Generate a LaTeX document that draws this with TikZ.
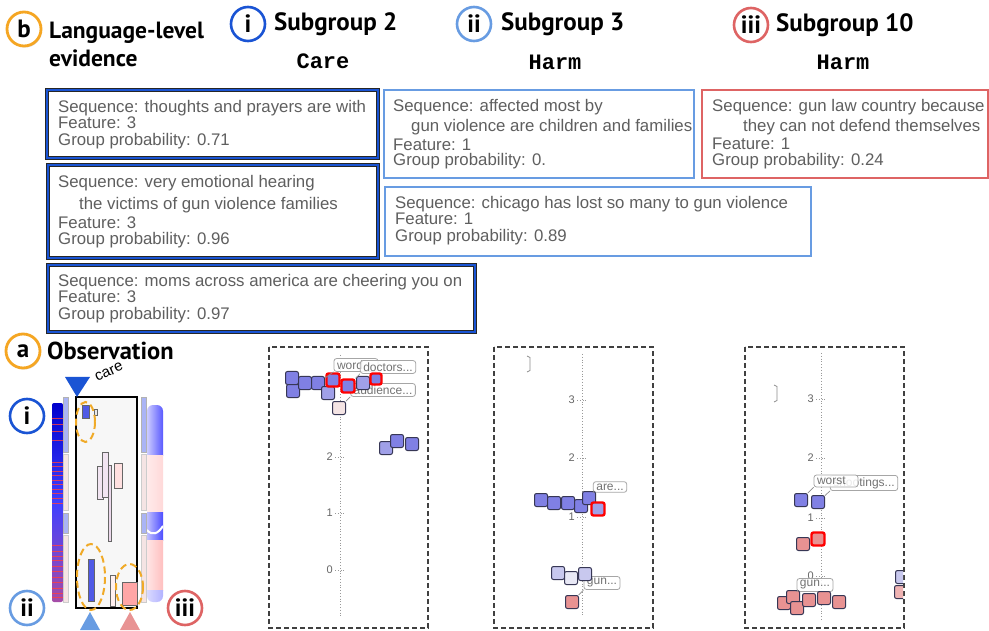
\documentclass[tikz,border=0pt]{standalone}
\usepackage{fontspec}
\setmainfont{Liberation Sans}
\newfontfamily\headfont{PT Sans}
\newfontfamily\codefont{Liberation Mono}
\usetikzlibrary{shadows}

\definecolor{subone}{RGB}{26,84,212}
\definecolor{subtwo}{RGB}{104,156,226}
\definecolor{subthree}{RGB}{222,100,100}
\definecolor{badge}{RGB}{245,166,35}
\definecolor{seqgray}{RGB}{95,95,95}
\definecolor{dotblue}{RGB}{128,128,228}
\definecolor{dotlight}{RGB}{160,160,232}
\definecolor{dotpale}{RGB}{200,200,238}
\definecolor{dotwhite}{RGB}{232,232,245}
\definecolor{dotsalmon}{RGB}{232,146,146}
\definecolor{dotpink}{RGB}{244,228,228}
\definecolor{dotedge}{RGB}{55,55,85}
\definecolor{ringorange}{RGB}{240,170,40}
\definecolor{barblue}{RGB}{170,180,245}
\definecolor{barpink}{RGB}{245,228,228}
\definecolor{boxblue}{RGB}{80,90,230}

\tikzset{
  badgecircle/.style={circle, draw=badge, line width=2.8pt, fill=white, minimum size=34pt, inner sep=0pt,
    drop shadow={opacity=0.3, shadow xshift=1pt, shadow yshift=-1.5pt}, font=\headfont\bfseries\fontsize{25}{25}\selectfont},
  groupcircle/.style={circle, draw=#1, line width=2.6pt, fill=white, minimum size=34pt, inner sep=0pt,
    font=\headfont\bfseries\fontsize{25}{25}\selectfont},
  title/.style={anchor=west, inner sep=0pt, align=left, font=\headfont\bfseries\fontsize{#1}{28}\selectfont},
  moral/.style={inner sep=0pt, font=\codefont\bfseries\fontsize{22}{22}\selectfont},
  seqbox/.style={draw=#1, line width=2.4pt},
  seqtext/.style={anchor=west, inner sep=0pt, align=left, text=seqgray, font=\fontsize{16.8}{16.5}\selectfont},
  panel/.style={draw=black!75, line width=1.1pt, dash pattern=on 5pt off 3pt},
  axisline/.style={draw=black!40, line width=0.8pt, dotted},
  ticklabel/.style={anchor=east, inner sep=0pt, text=black!60, font=\fontsize{11}{11}\selectfont},
  dot/.style={rectangle, draw=dotedge, line width=1pt, rounded corners=2pt, minimum size=13pt, inner sep=0pt, fill=#1},
  hit/.style={dot=#1, draw=red, line width=2.4pt},
  tip/.style={rectangle, draw=black!35, line width=0.8pt, rounded corners=2.5pt, fill=white, fill opacity=0.85,
    text opacity=1, text=black!55, inner xsep=3pt, inner ysep=2pt, font=\fontsize{12}{12}\selectfont},
  leader/.style={draw=black!45, line width=0.7pt},
  ring/.style={draw=ringorange, line width=2pt, dash pattern=on 7pt off 4pt},
  block/.style={draw=black!60, line width=0.8pt},
}

\begin{document}
\begin{tikzpicture}[x=1pt, y=-1pt]
\fill[white] (0,0) rectangle (989,631);
\useasboundingbox (0,0) rectangle (989,631);

% headers
\node[badgecircle] (badgeb) at (24,29) {b};
\node[title=23.5] (langtitle) at (49,44) {Language-level\\evidence};

\node[groupcircle=subone] (gi) at (248,24) {i};
\node[title=25] (sgtwo) at (274,24) {Subgroup 2};
\node[moral] (care) at (323,61) {Care};

\node[groupcircle=subtwo] (gii) at (474,24) {ii};
\node[title=25] (sgthree) at (501,24) {Subgroup 3};
\node[moral] (harmii) at (555,62) {Harm};

\node[groupcircle=subthree] (giii) at (751,25) {iii};
\node[title=25] (sgten) at (776,25) {Subgroup 10};
\node[moral] (harmiii) at (843,62) {Harm};

% sequence boxes
\draw[seqbox=subone, preaction={draw=black!85, line width=3.2pt}] (47,90) rectangle (378,158);
\node[seqtext] (seqone) at (58,124.5) {Sequence: thoughts and prayers are with\\Feature: 3\\Group probability: 0.71};

\draw[seqbox=subone, preaction={draw=black!85, line width=3.2pt}] (48,165) rectangle (378,258);
\node[seqtext] (seqtwo) at (58,212) {Sequence: very emotional hearing\\[5pt]\hspace*{21pt}the victims of gun violence families\\[2.5pt]Feature: 3\\Group probability: 0.96};

\draw[seqbox=subone, preaction={draw=black!85, line width=3.2pt}] (48,265) rectangle (475,332);
\node[seqtext] (seqthree) at (58,298.5) {Sequence: moms across america are cheering you on\\Feature: 3\\Group probability: 0.97};

\draw[seqbox=subtwo] (384,90) rectangle (694,178);
\node[seqtext] (seqfour) at (393,134) {Sequence: affected most by\\[3.5pt]\hspace*{18pt}gun violence are children and families\\[2.5pt]Feature: 1\\[-1.5pt]Group probability: 0.};

\draw[seqbox=subtwo] (385,187) rectangle (811,256);
\node[seqtext] (seqfive) at (395,220.5) {Sequence: chicago has lost so many to gun violence\\Feature: 1\\Group probability: 0.89};

\draw[seqbox=subthree] (702,90) rectangle (988,178);
\node[seqtext] (seqsix) at (712,134) {Sequence: gun law country because\\[3.5pt]\hspace*{31pt}they can not defend themselves\\[1pt]Feature: 1\\[-0.5pt]Group probability: 0.24};

% a: observation
\node[badgecircle] (badgea) at (23,351) {a};
\node[title=24.5] (obstitle) at (47,351) {Observation};

% heatmap strip
\shade[top color=blue!80!black, bottom color=violet!70, middle color=blue!75, rounded corners=2pt] (52,403) rectangle (63,602);
\foreach \y in {418,424,431,440,462,466,471,475,480,484,489,493,498,503,545,551,556,560,566,571,577,582,588,593,597}
  \draw[red!75, line width=0.7pt, opacity=0.8] (52,\y) -- (63,\y);

% right blob
\begin{scope}
\clip[rounded corners=6pt] (147,405) rectangle (163,602);
\shade[left color=blue!20, right color=blue!65] (147,405) rectangle (163,455);
\shade[left color=red!8, right color=red!15] (147,455) rectangle (163,512);
\shade[left color=blue!25, right color=blue!70] (147,512) rectangle (163,540);
\draw[white, line width=2pt] (147,530) .. controls (152,536) and (158,534) .. (163,526);
\shade[left color=red!10, right color=red!25] (147,540) rectangle (163,590);
\shade[left color=blue!15, right color=blue!30] (147,590) rectangle (163,602);
\end{scope}

% side bars
\foreach \x in {63,141} {
  \draw[draw=black!30, fill=barblue] (\x,397) rectangle (\x+5.5,452);
  \draw[draw=black!20, fill=barpink] (\x,454) rectangle (\x+5.5,510);
  \draw[draw=black!30, fill=barblue] (\x,513) rectangle (\x+5.5,533);
  \draw[draw=black!20, fill=barpink] (\x,535) rectangle (\x+5.5,602);
}

% main column
\draw[line width=1.8pt, fill=black!3] (76,397) rectangle (137,608);
\draw[block, fill=boxblue] (82,405) rectangle (89,418);
\draw[block, fill=black!8] (94,409) rectangle (97,415);
\draw[block, fill=violet!10] (97,466) rectangle (103,499);
\draw[block, fill=violet!10] (102,452) rectangle (108,497);
\draw[block, fill=violet!15] (108,465) rectangle (111,541);
\draw[block, fill=red!12] (114,463) rectangle (122,488);
\draw[block, fill=boxblue] (88,559) rectangle (94,601);
\draw[block, fill=red!6] (110,575) rectangle (115,606);
\draw[block, fill=red!35] (122,582) rectangle (137,605);

\draw[ring] (85.5,422) ellipse [x radius=9.5, y radius=20];
\draw[ring] (91,577) ellipse [x radius=14, y radius=33];
\draw[ring] (129.5,587) ellipse [x radius=13.5, y radius=23];

\fill[subone] (65,377) -- (90,377) -- (77,397) -- cycle;
\node[rotate=25, inner sep=0pt, font=\fontsize{15}{15}\selectfont] (caretag) at (109,372) {care};
\fill[subtwo] (80,630) -- (100,630) -- (90,612) -- cycle;
\fill[subthree!70] (120,630) -- (140,630) -- (130,612) -- cycle;

\node[groupcircle=subone] (obsi) at (27,416) {i};
\node[groupcircle=subtwo] (obsii) at (27,608) {ii};
\node[groupcircle=subthree] (obsiii) at (185,608) {iii};

% panel 1
\draw[panel] (269,347) rectangle (428,628);
\draw[axisline] (340,355) -- (340,617);
\foreach \v/\y in {2/457,1/513,0/570} {
  \draw[axisline] (335,\y) -- (345,\y);
  \node[ticklabel] at (333,\y) {\v};
}
\node[tip, text width=38pt, align=left] (tword) at (356,365) {word};
\node[tip] (tdoctors) at (388,367) {doctors...};
\node[tip] (taudience) at (383,390) {audience...};
\node[dot=dotblue] (p1a) at (292,378) {};
\node[dot=dotblue] (p1b) at (293,391) {};
\node[dot=dotblue] (p1c) at (305,383) {};
\node[dot=dotblue] (p1d) at (318,383) {};
\node[dot=dotlight] (p1e) at (328,393) {};
\node[hit=dotblue] (p1f) at (333,380) {};
\node[hit=dotblue] (p1g) at (348,386) {};
\node[dot=dotlight] (p1h) at (363,383) {};
\node[hit=dotblue, minimum size=11pt] (p1i) at (376,379) {};
\node[dot=dotpink] (p1j) at (339,408) {};
\node[dot=dotlight] (p1k) at (386,448) {};
\node[dot=dotblue] (p1l) at (397,441) {};
\node[dot=dotblue] (p1m) at (412,444) {};
\draw[leader] (tword.south west) -- (p1d);
\draw[leader] (tdoctors.south west) -- (p1g);
\draw[leader] (taudience.south west) -- (p1j);

% panel 2
\draw[panel] (494,347) rectangle (653,628);
\draw[axisline] (582,354) -- (582,617);
\foreach \v/\y in {3/400,2/458,1/517} {
  \draw[axisline] (577,\y) -- (587,\y);
  \node[ticklabel] at (575,\y) {\v};
}
\draw[black!45, line width=0.8pt] (527,356) -- (530,357.5) -- (530,370.5) -- (527,372);
\node[tip] (tare) at (610,487) {are...};
\node[tip] (tguntwo) at (602,583) {gun...};
\node[dot=dotblue] (p2a) at (541,500) {};
\node[dot=dotblue] (p2b) at (554,503) {};
\node[dot=dotblue] (p2c) at (568,503) {};
\node[dot=dotblue] (p2d) at (581,506) {};
\node[dot=dotblue] (p2e) at (589,498) {};
\node[hit=dotlight] (p2f) at (598,509) {};
\node[dot=dotpale] (p2g) at (558,573) {};
\node[dot=dotwhite] (p2h) at (571,578) {};
\node[dot=dotpale] (p2i) at (585,574) {};
\node[dot=dotsalmon] (p2j) at (572,602) {};
\draw[leader] (tare.south west) -- (p2e);
\draw[leader] (tguntwo.south west) -- (p2j);

% panel 3
\draw[panel] (745,347) rectangle (904,628);
\draw[axisline] (821,353) -- (821,620);
\foreach \v/\y in {3/399,2/458,1/518,0/576} {
  \draw[axisline] (816,\y) -- (826,\y);
  \node[ticklabel] at (814,\y) {\v};
}
\draw[black!45, line width=0.8pt] (774,385) -- (777,386.5) -- (777,400.5) -- (774,402);
\node[tip] (tshoot) at (864,483) {shootings...};
\node[tip, text width=38pt, align=left] (tworst) at (836,481) {worst};
\node[tip] (tgunthree) at (815,585) {gun...};
\node[dot=dotblue] (p3a) at (801,500) {};
\node[dot=dotblue] (p3b) at (818,502) {};
\node[dot=dotsalmon] (p3c) at (803,544) {};
\node[hit=dotsalmon] (p3d) at (818,539) {};
\node[dot=dotsalmon] (p3e) at (784,603) {};
\node[dot=dotsalmon] (p3f) at (793,597) {};
\node[dot=dotsalmon] (p3g) at (797,608) {};
\node[dot=dotsalmon] (p3h) at (809,600) {};
\node[dot=dotsalmon] (p3i) at (824,598) {};
\node[dot=dotsalmon] (p3j) at (839,602) {};
\begin{scope}
\clip (745,347) rectangle (903,628);
\node[dot=dotpale] (p3k) at (902,577) {};
\node[dot=dotsalmon!70] (p3l) at (901,592) {};
\end{scope}
\draw[leader] (tworst.south west) -- (p3a);
\draw[leader] (tshoot.south west) -- (p3b);
\draw[leader] (tgunthree.south west) -- (p3f);
\end{tikzpicture}
\end{document}
